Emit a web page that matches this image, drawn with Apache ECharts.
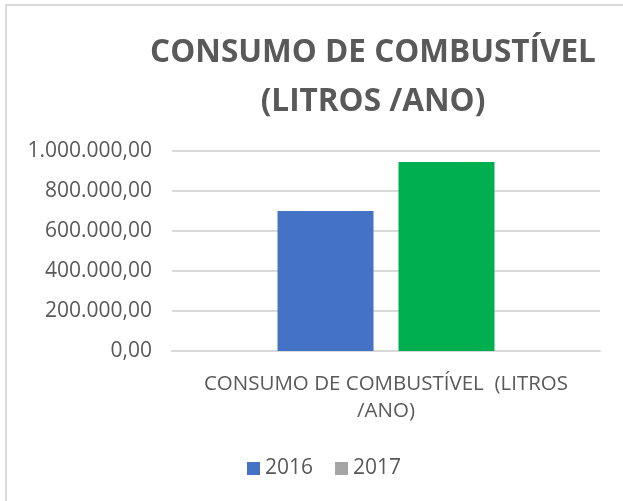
<!DOCTYPE html>
<html>
<head>
<meta charset="utf-8">
<script src="https://cdn.jsdelivr.net/npm/echarts@6/dist/echarts.min.js"></script>
<style>
  html, body { margin: 0; padding: 0; background: #fff; }
  #chart { width: 623px; height: 501px; }
</style>
</head>
<body>
<div id="chart"></div>
<script>
const categories = ['CONSUMO DE COMBUSTÍVEL  (LITROS\n/ANO)']
const seriesNames = ['2016', '2017']
const values2016 = [700000]
const values2017 = [945000]
const yTicks = [0, 200000, 400000, 600000, 800000, 1000000]

const textColor = '#595959'
const font = '"Open Sans", sans-serif'

function fmt(v) {
  const s = Math.round(v).toString().replace(/\B(?=(\d{3})+(?!\d))/g, '.')
  return s + ',00'
}

const chart = echarts.init(document.getElementById('chart'))
chart.setOption({
  animation: false,
  title: {
    text: 'CONSUMO DE COMBUSTÍVEL\n(LITROS /ANO)',
    left: 368,
    top: 24,
    textAlign: 'center',
    textStyle: {
      color: textColor,
      fontFamily: font,
      fontWeight: 'bold',
      fontSize: 31.5,
      lineHeight: 49
    }
  },
  graphic: [{
    type: 'rect',
    shape: { x: 6, y: 5, width: 700, height: 600 },
    style: { fill: 'none', stroke: '#D9D9D9', lineWidth: 2 },
    silent: true
  }],
  legend: {
    data: seriesNames,
    top: 453,
    left: 242,
    icon: 'rect',
    itemWidth: 13,
    itemHeight: 13,
    itemGap: 22,
    textStyle: { color: textColor, fontFamily: font, fontSize: 21 }
  },
  grid: {
    left: 172,
    right: 23,
    top: 151,
    bottom: 150
  },
  xAxis: {
    type: 'category',
    data: categories,
    axisTick: { show: false },
    axisLine: { lineStyle: { color: '#D9D9D9', width: 2 } },
    axisLabel: {
      color: textColor,
      fontFamily: font,
      fontSize: 20.5,
      lineHeight: 27,
      margin: 20
    }
  },
  yAxis: {
    type: 'value',
    min: yTicks[0],
    max: yTicks[yTicks.length - 1],
    interval: 200000,
    axisLine: { show: false },
    axisTick: { show: false },
    splitLine: { lineStyle: { color: '#D9D9D9', width: 2 } },
    axisLabel: {
      color: textColor,
      fontFamily: font,
      fontSize: 21,
      margin: 20,
      formatter: fmt
    }
  },
  series: [
    {
      name: seriesNames[0],
      type: 'bar',
      data: values2016,
      barWidth: 96,
      barGap: '26%',
      itemStyle: { color: '#4472C4' }
    },
    {
      name: seriesNames[1],
      type: 'bar',
      barWidth: 96,
      itemStyle: { color: '#A5A5A5' },
      data: values2017.map(v => ({ value: v, itemStyle: { color: '#00B050' } }))
    }
  ]
})
</script>
</body>
</html>
